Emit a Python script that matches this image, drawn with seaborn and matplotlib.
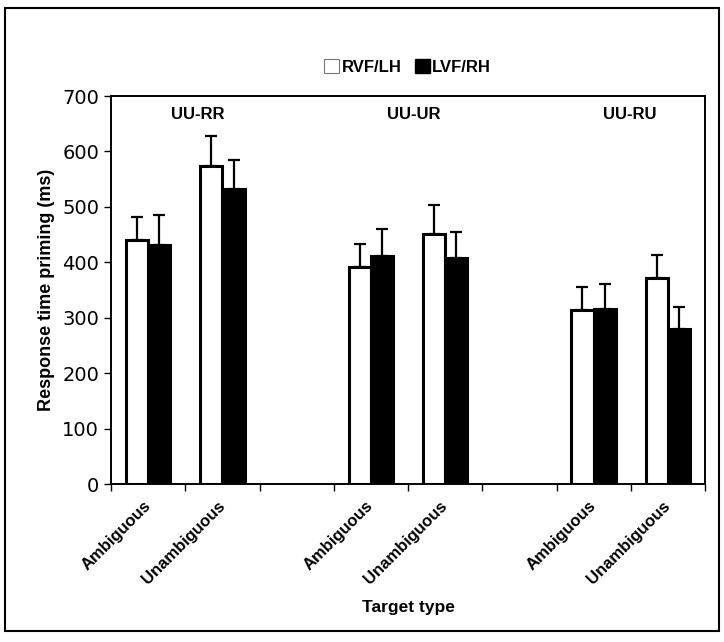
import numpy as np
import pandas as pd
import matplotlib.pyplot as plt
import seaborn as sns
from matplotlib.patches import Rectangle, Patch

# data
groups = ["UU-RR", "UU-UR", "UU-RU"]
target_types = ["Ambiguous", "Unambiguous"]
fields = ["RVF/LH", "LVF/RH"]

rvf_lh = [440, 574, 391, 451, 314, 371]
lvf_rh = [431, 533, 412, 407, 316, 279]
rvf_lh_err = [42, 54, 42, 52, 41, 43]
lvf_rh_err = [54, 51, 48, 48, 45, 41]

group_label_x = [0.67, 3.58, 6.49]   # where the group titles sit (category units)
group_label_y = 666

# slots: two target types per group, with an empty slot between groups
order = []
for gi, g in enumerate(groups):
    for t in target_types:
        order.append(f"{g}|{t}")
    if gi < len(groups) - 1:
        order.append(f"gap{gi}")

rows = []
for field, vals, errs in [(fields[0], rvf_lh, rvf_lh_err), (fields[1], lvf_rh, lvf_rh_err)]:
    i = 0
    for g in groups:
        for t in target_types:
            rows.append({"slot": f"{g}|{t}", "field": field, "value": vals[i], "err": errs[i]})
            i += 1
df = pd.DataFrame(rows)

sns.set_style("ticks", {"text.color": "black", "axes.labelcolor": "black",
                        "xtick.color": "black", "ytick.color": "black",
                        "axes.edgecolor": "black"})
plt.rcParams['font.family'] = ['Liberation Sans', 'DejaVu Sans']

fig = plt.figure(figsize=(7.24, 6.42), dpi=100)
ax = fig.add_axes([111 / 724, 1 - 484 / 642, (705 - 111) / 724, 388 / 642])

sns.barplot(data=df, x="slot", y="value", hue="field", order=order,
            hue_order=fields, palette={"RVF/LH": "white", "LVF/RH": "black"},
            edgecolor="black", linewidth=2.2, width=0.6, errorbar=None,
            legend=False, ax=ax)

# upward-only error bars
for cont, field in zip(ax.containers, fields):
    sub = df[df["field"] == field].set_index("slot").loc[[s for s in order if not s.startswith("gap")]]
    xs = [b.get_x() + b.get_width() / 2 for b in cont]
    hs = [b.get_height() for b in cont]
    errs = sub["err"].values
    ax.errorbar(xs, hs, yerr=[np.zeros(len(errs)), errs], fmt="none",
                ecolor="black", elinewidth=1.6, capsize=4.5, capthick=1.6, zorder=3)

ax.set_xlim(-0.5, len(order) - 0.5)
ax.set_ylim(0, 700)
ax.set_yticks(range(0, 701, 100))
ax.tick_params(axis="y", labelsize=14, length=5, width=1, direction="out")
for lbl in ax.get_yticklabels():
    lbl.set_fontfamily("DejaVu Sans")

data_pos = [i for i, s in enumerate(order) if not s.startswith("gap")]
ax.set_xticks(data_pos)
ax.set_xticklabels([order[i].split("|")[1] for i in data_pos], rotation=45,
                   ha="right", va="center", rotation_mode="anchor",
                   fontsize=12, fontweight="bold")
ax.tick_params(axis="x", which="major", length=0, pad=14)
ax.set_xticks(np.arange(-0.5, len(order), 1), minor=True)
ax.tick_params(axis="x", which="minor", length=5, width=1, direction="out")

for sp in ax.spines.values():
    sp.set_visible(True)
    sp.set_linewidth(1.4)
    sp.set_color("black")

ax.set_ylabel("Response time priming (ms)", fontsize=13, fontweight="bold")
ax.set_xlabel("Target type", fontsize=12.5, fontweight="bold")
ax.xaxis.set_label_coords(0.5, (484 - 600) / 388)
ax.yaxis.set_label_coords(-0.094, 0.5)

for x, g in zip(group_label_x, groups):
    ax.text(x, group_label_y, g, ha="center", va="center",
            fontsize=12, fontweight="bold", color="black")

handles = [Patch(facecolor="white", edgecolor="#777777", linewidth=0.8),
           Patch(facecolor="black", edgecolor="black")]
fig.legend(handles, fields, loc="center", bbox_to_anchor=(0.563, 0.896),
           ncol=2, frameon=False, handlelength=0.9, handleheight=0.9,
           handletextpad=0.15, columnspacing=0.8,
           prop={"weight": "bold", "size": 12})

# outer frame around the whole figure
fig.patches.append(Rectangle((5 / 724, 1 - 631 / 642), 714 / 724, 623 / 642,
                             transform=fig.transFigure, fill=False,
                             edgecolor="black", linewidth=1.5))

fig.savefig("out.png", dpi=100)
